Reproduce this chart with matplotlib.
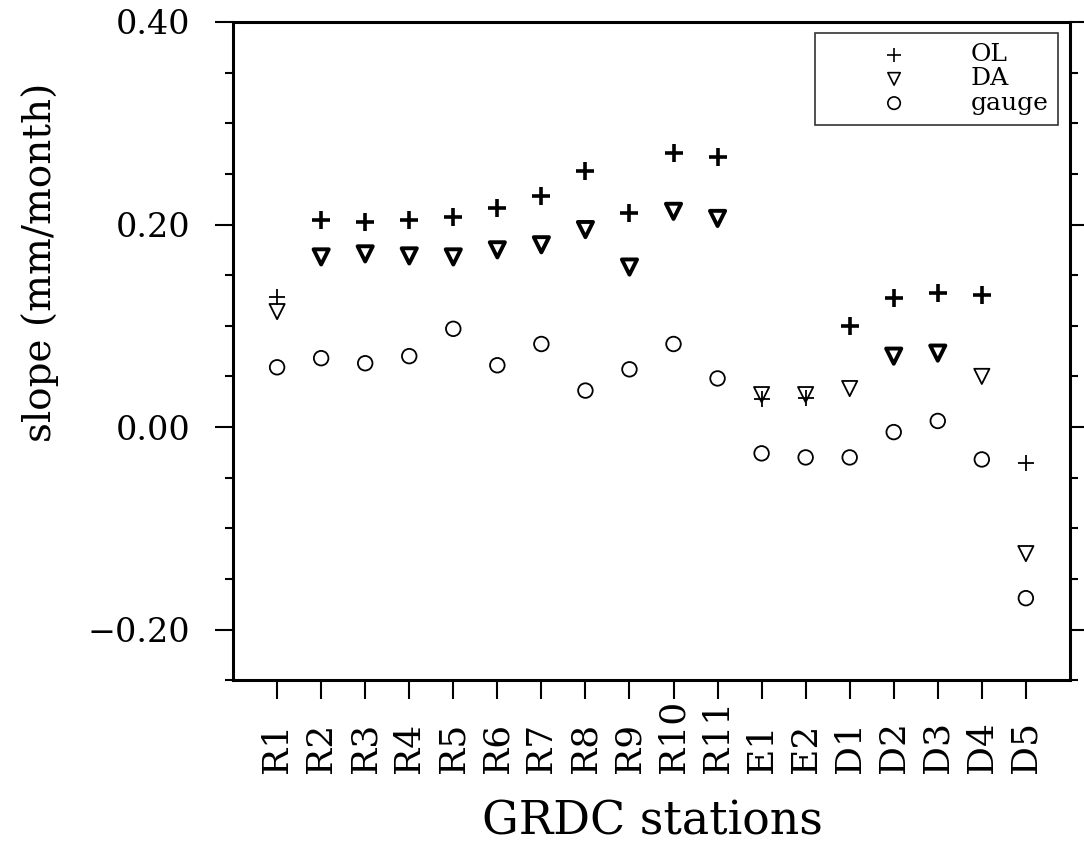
import numpy as np
import matplotlib
matplotlib.use('Agg')
import matplotlib.pyplot as plt
from matplotlib.ticker import MultipleLocator

stations = ['R1', 'R2', 'R3', 'R4', 'R5', 'R6', 'R7', 'R8', 'R9', 'R10', 'R11',
            'E1', 'E2', 'D1', 'D2', 'D3', 'D4', 'D5']
ol = [0.128, 0.204, 0.202, 0.204, 0.207, 0.216, 0.228, 0.253, 0.211, 0.271, 0.267,
      0.028, 0.029, 0.100, 0.127, 0.132, 0.130, -0.036]
da = [0.114, 0.168, 0.171, 0.169, 0.168, 0.175, 0.180, 0.195, 0.158, 0.213, 0.206,
      0.032, 0.032, 0.038, 0.070, 0.073, 0.050, -0.125]
gauge = [0.059, 0.068, 0.063, 0.070, 0.097, 0.061, 0.082, 0.036, 0.057, 0.082, 0.048,
         -0.026, -0.030, -0.030, -0.005, 0.006, -0.032, -0.169]
# bold markers (significant trends)
ol_bold = [0, 1, 1, 1, 1, 1, 1, 1, 1, 1, 1, 0, 0, 1, 1, 1, 1, 0]
da_bold = [0, 1, 1, 1, 1, 1, 1, 1, 1, 1, 1, 0, 0, 0, 1, 1, 0, 0]

plt.rcParams['font.family'] = ['DejaVu Serif']

fig = plt.figure(figsize=(10.84, 8.46), dpi=100)
ax = fig.add_axes([0.215, 0.196, 0.772, 0.778])

x = np.arange(1, len(stations) + 1)
ol = np.array(ol); da = np.array(da); gauge = np.array(gauge)
ob = np.array(ol_bold, dtype=bool); dbm = np.array(da_bold, dtype=bool)

ax.scatter(x[~ob], ol[~ob], marker='+', s=140, c='k', linewidths=1.3)
ax.scatter(x[ob], ol[ob], marker='+', s=160, c='k', linewidths=2.6)
ax.scatter(x[~dbm], da[~dbm], marker='v', s=120, facecolors='none', edgecolors='k', linewidths=1.3)
ax.scatter(x[dbm], da[dbm], marker='v', s=120, facecolors='none', edgecolors='k', linewidths=2.8)
ax.scatter(x, gauge, marker='o', s=110, facecolors='none', edgecolors='k', linewidths=1.3)

ax.set_xlim(0, len(stations) + 1)
ax.set_ylim(-0.25, 0.40)
ax.set_xticks(x)
ax.set_xticklabels(stations, rotation=90, fontsize=26, rotation_mode='anchor',
                   ha='left', va='center')
ax.yaxis.set_minor_locator(MultipleLocator(0.05))
ax.set_yticks([-0.2, 0.0, 0.2, 0.4])
ax.set_yticklabels(['\u22120.20', '0.00', '0.20', '0.40'], fontsize=24)
ax.tick_params(axis='y', which='both', direction='out', left=True, right=True, width=1.5)
ax.tick_params(axis='y', which='major', length=13, pad=18)
ax.tick_params(axis='y', which='minor', length=6)
# labels end at a common baseline below the ticks
ax.tick_params(axis='x', direction='out', length=14, width=1.5, pad=53)
for sp in ax.spines.values():
    sp.set_linewidth(2.2)

fig.text(40 / 1084, 1 - 262 / 846, 'slope (mm/month)', fontsize=28,
         rotation=90, ha='center', va='center')
fig.text(652 / 1084, 1 - 834 / 846, 'GRDC stations', fontsize=33,
         ha='center', va='baseline')

# legend box
ax.scatter([], [], marker='+', s=110, c='k', linewidths=1.2, label='OL')
ax.scatter([], [], marker='v', s=80, facecolors='none', edgecolors='k', linewidths=1.2, label='DA')
ax.scatter([], [], marker='o', s=80, facecolors='none', edgecolors='k', linewidths=1.2, label='gauge')
h, l = ax.get_legend_handles_labels()
leg = ax.legend(h[-3:], l[-3:], loc='upper right', bbox_to_anchor=(0.986, 0.983),
                fontsize=18, frameon=True, fancybox=False, edgecolor='k',
                labelspacing=0.05, handletextpad=0.3, borderpad=0.4,
                borderaxespad=0, handlelength=5.5)
leg.get_frame().set_linewidth(1.2)

fig.savefig('out.png', dpi=100)
